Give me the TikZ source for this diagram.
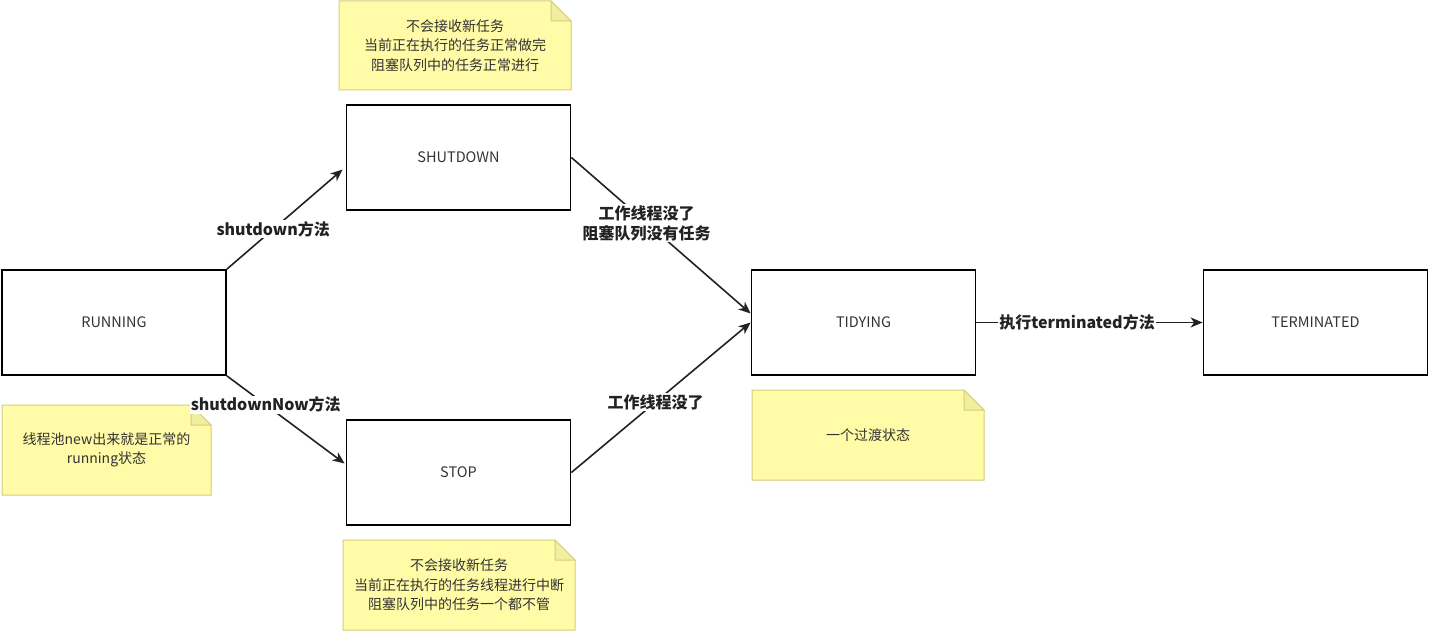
\documentclass[tikz,border=0pt]{standalone}
\usepackage{fontspec}
\setmainfont{Noto Sans CJK SC}
\usetikzlibrary{arrows.meta,calc}
\definecolor{txt}{HTML}{333333}
\definecolor{edgecol}{HTML}{222222}
\definecolor{notefill}{HTML}{FFFBA6}
\definecolor{notefold}{HTML}{F2EEA0}
\definecolor{noteline}{HTML}{D4CF7A}
\tikzset{
  state/.style={draw=black, line width=1.8pt, minimum width=224pt, minimum height=105pt,
    inner sep=0pt, font=\fontsize{14.5}{17}\selectfont, text=txt},
  conn/.style={draw=edgecol, line width=1.6pt, -{Stealth[length=12pt,width=10pt,inset=3.5pt]}},
  elabel/.style={fill=white, inner sep=1pt, font=\bfseries\fontsize{16}{20}\selectfont,
    align=center, text=edgecol},
  notetext/.style={font=\fontsize{14}{19.5}\selectfont, align=center, text=txt},
  notebg/.style={fill=notefill, draw=noteline, line width=1pt},
  notefoldstyle/.style={fill=notefold, draw=noteline, line width=1pt}
}
\newcommand{\stickynote}[6]{%
  \draw[notebg] (#2,#3) -- ({#4-20},#3) -- (#4,{#3+20}) -- (#4,#5) -- (#2,#5) -- cycle;
  \draw[notefoldstyle] ({#4-20},#3) -- ({#4-20},{#3+20}) -- (#4,{#3+20}) -- cycle;
  \node[notetext] (#1) at ({(#2+#4)/2},{(#3+#5)/2}) {#6};
}
\begin{document}
\begin{tikzpicture}[x=1pt,y=-1pt]
\useasboundingbox (0,0) rectangle (1429,631);

% notes
\stickynote{noteShutdown}{339}{1}{571}{90}{不会接收新任务\\当前正在执行的任务正常做完\\阻塞队列中的任务正常进行}
\stickynote{noteRunning}{2}{405}{211}{495}{线程池new出来就是正常的\\running状态}
\stickynote{noteTidying}{752}{390}{984}{480}{一个过渡状态}
\stickynote{noteStop}{343}{540}{575}{630}{不会接收新任务\\当前正在执行的任务线程进行中断\\阻塞队列中的任务一个都不管}

% states
\node[state] (running) at (114,322.5) {RUNNING};
\node[state] (shutdown) at (458.5,157.5) {SHUTDOWN};
\node[state] (stop) at (458.5,472.5) {STOP};
\node[state] (tidying) at (863.5,322.5) {TIDYING};
\node[state] (terminated) at (1315.5,322.5) {TERMINATED};

% connectors
\draw[conn] (running.north east) -- ([shift={(-3pt,-12pt)}]shutdown.west)
  node[elabel, pos=0.4] {shutdown方法};
\draw[conn] (running.south east) -- ([shift={(-1pt,9pt)}]stop.west)
  node[elabel, pos=0.33] {shutdownNow方法};
\draw[conn] (shutdown.east) -- ([yshift=9pt]tidying.west)
  node[elabel, pos=0.42] {工作线程没了\\阻塞队列没有任务};
\draw[conn] (stop.east) -- (tidying.west)
  node[elabel, pos=0.47] {工作线程没了};
\draw[conn] (tidying.east) -- (terminated.west)
  node[elabel, pos=0.445] {执行terminated方法};
\end{tikzpicture}
\end{document}
